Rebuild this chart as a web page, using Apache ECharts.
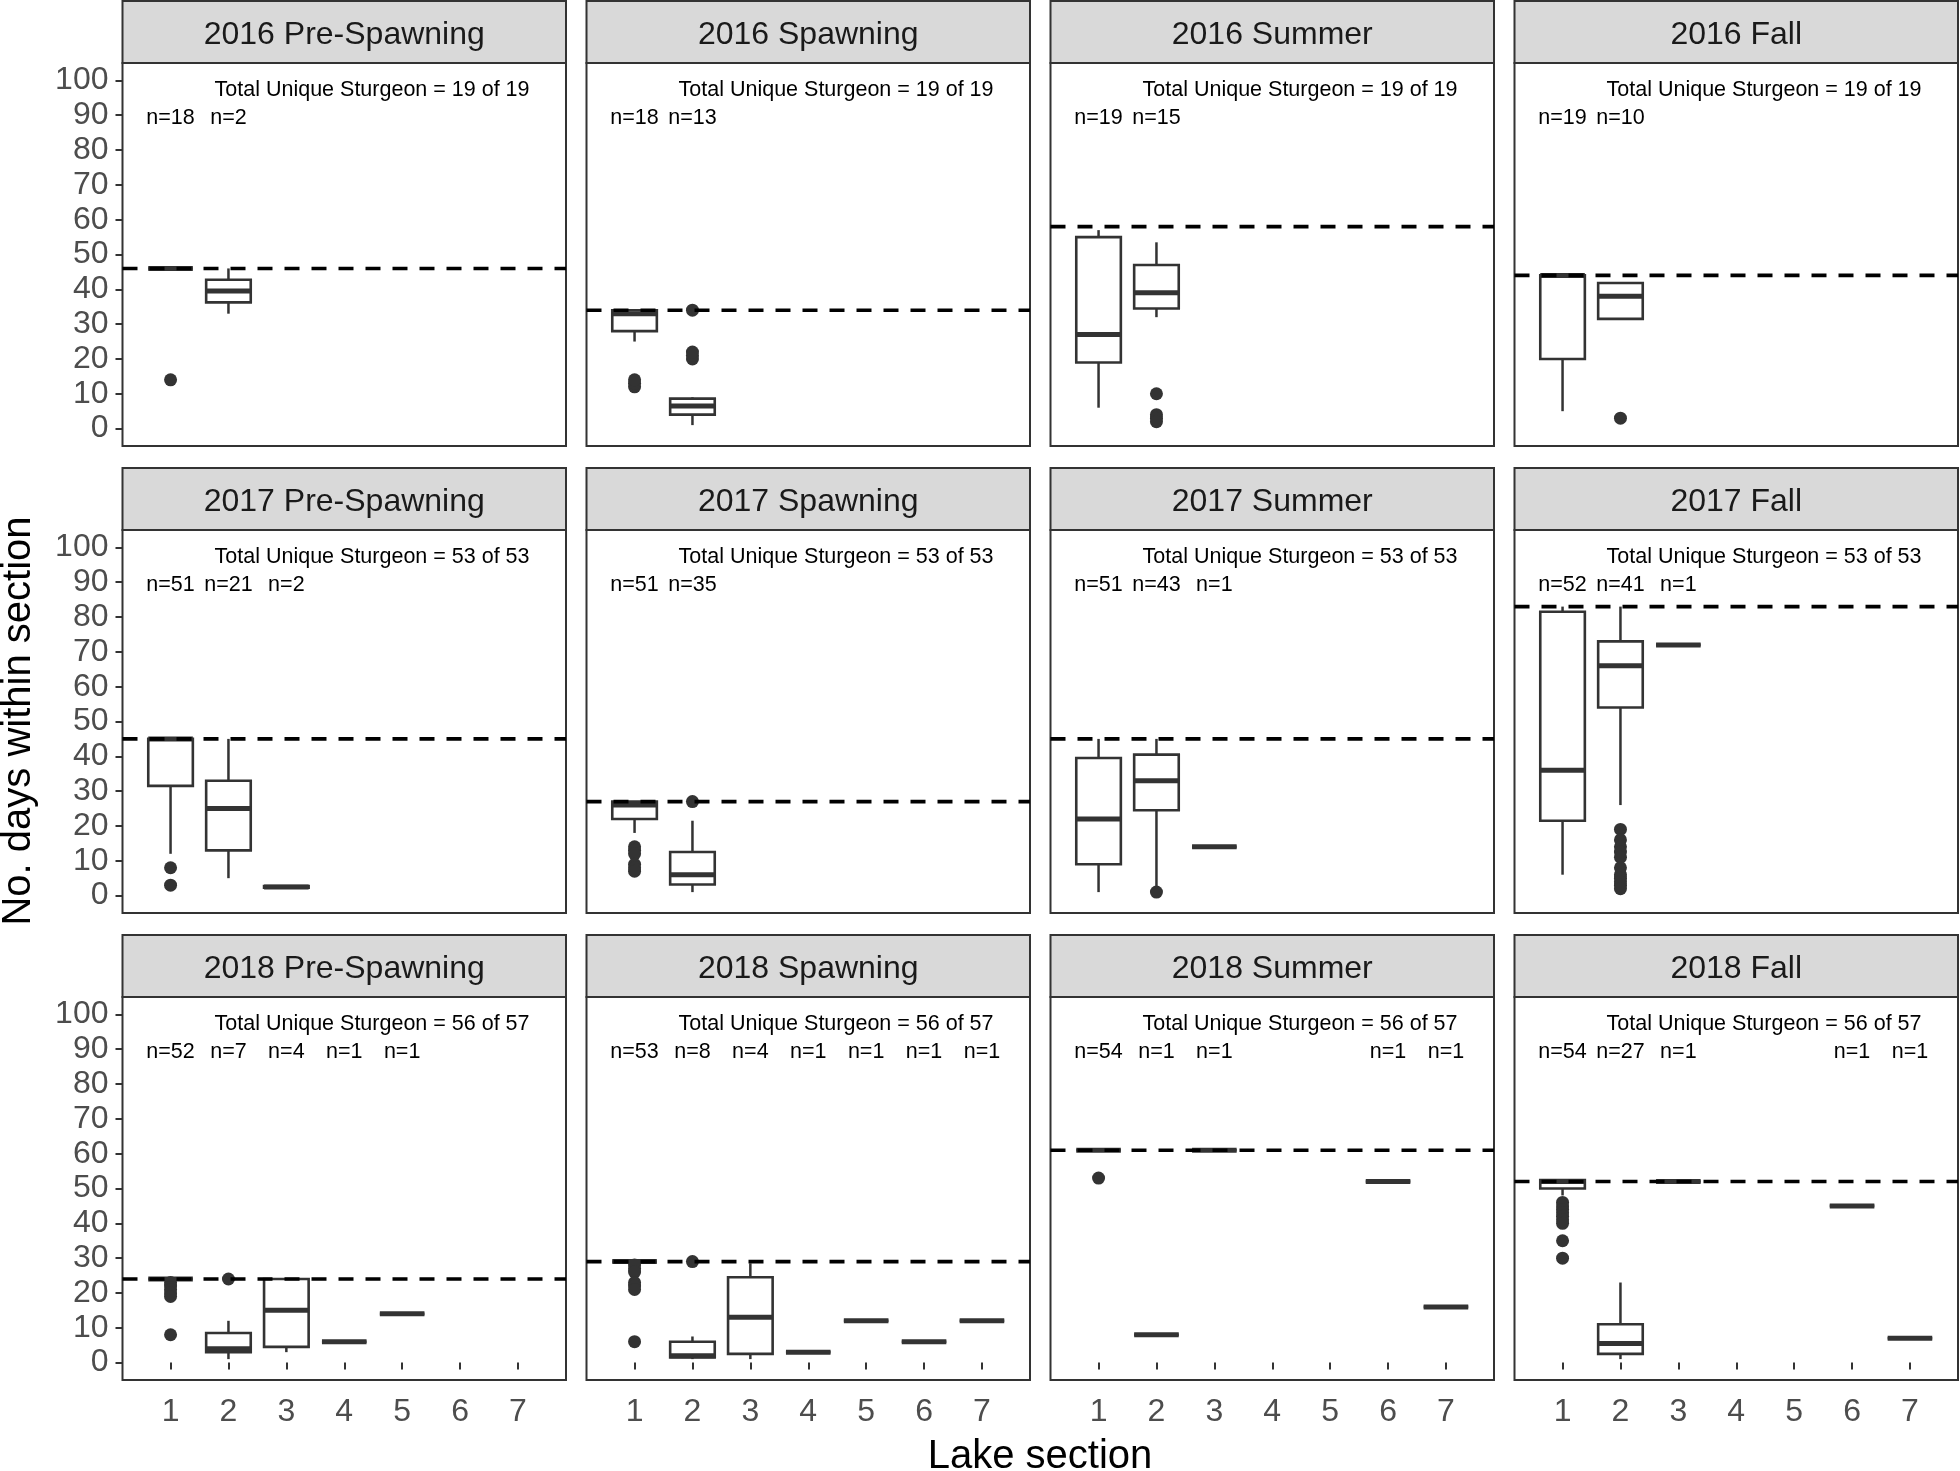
<!DOCTYPE html>
<html><head><meta charset="utf-8">
<script src="https://cdn.jsdelivr.net/npm/echarts@6/dist/echarts.min.js"></script>
<style>html,body{margin:0;padding:0;background:#fff;}#chart{width:1960px;height:1471px;}</style>
</head><body><div id="chart"></div>
<script>
// ---------------- data ----------------
const sections = ['1','2','3','4','5','6','7'];
const sectionValues = [1,2,3,4,5,6,7];
const yTickValues = [0,10,20,30,40,50,60,70,80,90,100];
const panelTitles = [
  '2016 Pre-Spawning','2016 Spawning','2016 Summer','2016 Fall',
  '2017 Pre-Spawning','2017 Spawning','2017 Summer','2017 Fall',
  '2018 Pre-Spawning','2018 Spawning','2018 Summer','2018 Fall'
];
const uniqueTotals = [
  '19 of 19','19 of 19','19 of 19','19 of 19',
  '53 of 53','53 of 53','53 of 53','53 of 53',
  '56 of 57','56 of 57','56 of 57','56 of 57'
];
const referenceDays = [46, 34, 58, 44, 45, 27, 45, 83, 24, 29, 61, 52];
// [section, n]
const nCounts = [
  [[1,18],[2,2]],
  [[1,18],[2,13]],
  [[1,19],[2,15]],
  [[1,19],[2,10]],
  [[1,51],[2,21],[3,2]],
  [[1,51],[2,35]],
  [[1,51],[2,43],[3,1]],
  [[1,52],[2,41],[3,1]],
  [[1,52],[2,7],[3,4],[4,1],[5,1]],
  [[1,53],[2,8],[3,4],[4,1],[5,1],[6,1],[7,1]],
  [[1,54],[2,1],[3,1],[6,1],[7,1]],
  [[1,54],[2,27],[3,1],[6,1],[7,1]]
];
// [section, lower whisker, Q1, median, Q3, upper whisker]
const boxStats = [
  [[1,46,46,46,46,46],[2,33,36.25,39.5,42.75,46]],
  [[1,25,28,33,34,34],[2,1,4,6.5,8.6,9]],
  [[1,6,19,27,55,57],[2,32,34.5,39,47,53.5]],
  [[1,5,20,44,44,44],[2,31.5,31.5,38,41.8,41.8]],
  [[1,12,31.5,45,45,45],[2,5,13,25,33,45],[3,2,2.25,2.5,2.75,3]],
  [[1,18,22,26,27,27],[2,1,3.2,6,12.5,21.5]],
  [[1,1,9,22,39.5,45],[2,2,24.5,33,40.5,45],[3,14,14,14,14,14]],
  [[1,6,21.5,36,81.5,83],[2,26,54,66,73,83],[3,72,72,72,72,72]],
  [[1,24,24,24,24,24],[2,1,3,4,8.5,12],[3,3,4.5,15,24,24],[4,6,6,6,6,6],[5,14,14,14,14,14]],
  [[1,29,29,29,29,29],[2,1,1.5,2,6,7.5],[3,1,2.5,13,24.5,28.5],[4,3,3,3,3,3],[5,12,12,12,12,12],[6,6,6,6,6,6],[7,12,12,12,12,12]],
  [[1,61,61,61,61,61],[2,8,8,8,8,8],[3,61,61,61,61,61],[6,52,52,52,52,52],[7,16,16,16,16,16]],
  [[1,48,50,52,52.4,52.4],[2,1,2.5,5.5,11,23],[3,52,52,52,52,52],[6,45,45,45,45,45],[7,7,7,7,7,7]]
];
// [section, value]
const outlierPoints = [
  [[1,14]],
  [[1,12],[1,13],[1,14],[2,20],[2,21],[2,22],[2,34]],
  [[2,10],[2,4],[2,3],[2,2]],
  [[2,3]],
  [[1,8],[1,3]],
  [[1,14],[1,13],[1,12],[1,9],[1,8],[1,7],[2,27]],
  [[2,1]],
  [[2,19],[2,16],[2,14],[2,12.5],[2,11],[2,8],[2,6],[2,5],[2,4],[2,3],[2,2]],
  [[1,23],[1,22],[1,21],[1,20],[1,19],[1,8],[2,24]],
  [[1,28],[1,27],[1,26],[1,23],[1,22],[1,21],[1,6],[2,29]],
  [[1,53]],
  [[1,46],[1,45],[1,44],[1,43],[1,42],[1,41],[1,40],[1,35],[1,30]]
];

// ---------------- layout / style ----------------
const FONT = '"Liberation Sans", Arial, Helvetica, sans-serif';
const COL_LEFT = [122.5, 586.5, 1050.5, 1514.5];
const PANEL_W = 443.5;
const STRIP_TOP = [1, 468, 935];
const STRIP_H = 62;
const PLOT_H = 383;
const X_MIN = 0.17, X_MAX = 7.83, Y_MIN = -5, Y_MAX = 105;
const BOX_W = 0.77;
const TOTAL_POS = [4.48, 97.3];
const N_Y = 89.2;
const DARK = '#333333';

function renderBox(params, api) {
  const x = api.value(0);
  const pMin = api.coord([x, api.value(1)]);
  const pQ1 = api.coord([x - BOX_W / 2, api.value(2)]);
  const pMed = api.coord([x, api.value(3)]);
  const pQ3 = api.coord([x + BOX_W / 2, api.value(4)]);
  const pMax = api.coord([x, api.value(5)]);
  const xc = pMed[0], x0 = pQ1[0], x1 = pQ3[0];
  const ls = {stroke: DARK, lineWidth: 2.5, fill: null};
  return {
    type: 'group',
    children: [
      {type: 'line', shape: {x1: xc, y1: pMax[1], x2: xc, y2: pQ3[1]}, style: ls},
      {type: 'line', shape: {x1: xc, y1: pQ1[1], x2: xc, y2: pMin[1]}, style: ls},
      {type: 'rect', shape: {x: x0, y: pQ3[1], width: x1 - x0, height: pQ1[1] - pQ3[1]},
        style: {fill: '#ffffff', stroke: DARK, lineWidth: 2.6}},
      {type: 'line', shape: {x1: x0, y1: pMed[1], x2: x1, y2: pMed[1]},
        style: {stroke: DARK, lineWidth: 5, lineCap: 'butt'}}
    ]
  };
}

const grids = [], xAxes = [], yAxes = [], series = [], graphics = [];

panelTitles.forEach((title, i) => {
  const r = Math.floor(i / 4), c = i % 4;
  const left = COL_LEFT[c];
  const top = STRIP_TOP[r] + STRIP_H;
  grids.push({left: left, top: top, width: PANEL_W, height: PLOT_H,
    show: true, borderColor: DARK, borderWidth: 2, backgroundColor: '#ffffff'});
  xAxes.push({
    type: 'value', gridIndex: i, min: X_MIN, max: X_MAX,
    axisLine: {show: false}, splitLine: {show: false},
    axisTick: {show: r === 2, length: 7, lineStyle: {color: DARK, width: 2}, customValues: sectionValues},
    axisLabel: {show: r === 2, customValues: sectionValues,
      formatter: v => sections[Math.round(v) - 1],
      color: '#4D4D4D', fontSize: 32, fontFamily: FONT, margin: 16}
  });
  yAxes.push({
    type: 'value', gridIndex: i, min: Y_MIN, max: Y_MAX,
    axisLine: {show: false}, splitLine: {show: false},
    axisTick: {show: c === 0, length: 7, lineStyle: {color: DARK, width: 2}, customValues: yTickValues},
    axisLabel: {show: c === 0, customValues: yTickValues,
      color: '#4D4D4D', fontSize: 32, fontFamily: FONT, margin: 14}
  });
  // outliers
  series.push({
    type: 'scatter', xAxisIndex: i, yAxisIndex: i, data: outlierPoints[i],
    symbol: 'circle', symbolSize: 13, itemStyle: {color: DARK, opacity: 1},
    silent: true, z: 2
  });
  // boxes
  series.push({
    type: 'custom', xAxisIndex: i, yAxisIndex: i, data: boxStats[i],
    encode: {x: 0, y: [1, 2, 3, 4, 5]}, renderItem: renderBox, silent: true, z: 3
  });
  // reference (dashed) line
  series.push({
    type: 'line', xAxisIndex: i, yAxisIndex: i,
    data: [[X_MIN, referenceDays[i]], [X_MAX, referenceDays[i]]],
    symbol: 'none', silent: true, z: 4,
    lineStyle: {color: '#000000', width: 3.6, type: [15, 12]}
  });
  // text annotations
  const labels = ['Total Unique Sturgeon = ' + uniqueTotals[i]].concat(nCounts[i].map(d => 'n=' + d[1]));
  const labelPts = [TOTAL_POS].concat(nCounts[i].map(d => [d[0], N_Y]));
  series.push({
    type: 'custom', xAxisIndex: i, yAxisIndex: i, data: labelPts, silent: true, z: 5,
    renderItem: (params, api) => {
      const p = api.coord([api.value(0), api.value(1)]);
      return {type: 'text', x: p[0], y: p[1],
        style: {text: labels[params.dataIndex], fontSize: 21.5, fontFamily: FONT,
          fill: '#000000', align: 'center', verticalAlign: 'middle'}};
    }
  });
  // strip
  graphics.push({type: 'rect', shape: {x: left, y: STRIP_TOP[r], width: PANEL_W, height: STRIP_H},
    style: {fill: '#D9D9D9', stroke: DARK, lineWidth: 2}, z: 10});
  graphics.push({type: 'text', x: left + PANEL_W / 2, y: STRIP_TOP[r] + STRIP_H / 2 + 3,
    style: {text: title, fontSize: 32, fontFamily: FONT, fill: '#1A1A1A', align: 'center', verticalAlign: 'middle'}, z: 11});
});

graphics.push({type: 'text', x: 1040, y: 1457,
  style: {text: 'Lake section', fontSize: 40, fontFamily: FONT, fill: '#000000', align: 'center', verticalAlign: 'middle'}, z: 11});
graphics.push({type: 'text', x: 19, y: 721, rotation: Math.PI / 2,
  style: {text: 'No. days within section', fontSize: 40, fontFamily: FONT, fill: '#000000', align: 'center', verticalAlign: 'middle'}, z: 11});

const chart = echarts.init(document.getElementById('chart'), null, {renderer: 'canvas'});
chart.setOption({
  animation: false,
  backgroundColor: '#ffffff',
  textStyle: {fontFamily: FONT},
  grid: grids, xAxis: xAxes, yAxis: yAxes, series: series, graphic: graphics
});
</script></body></html>
